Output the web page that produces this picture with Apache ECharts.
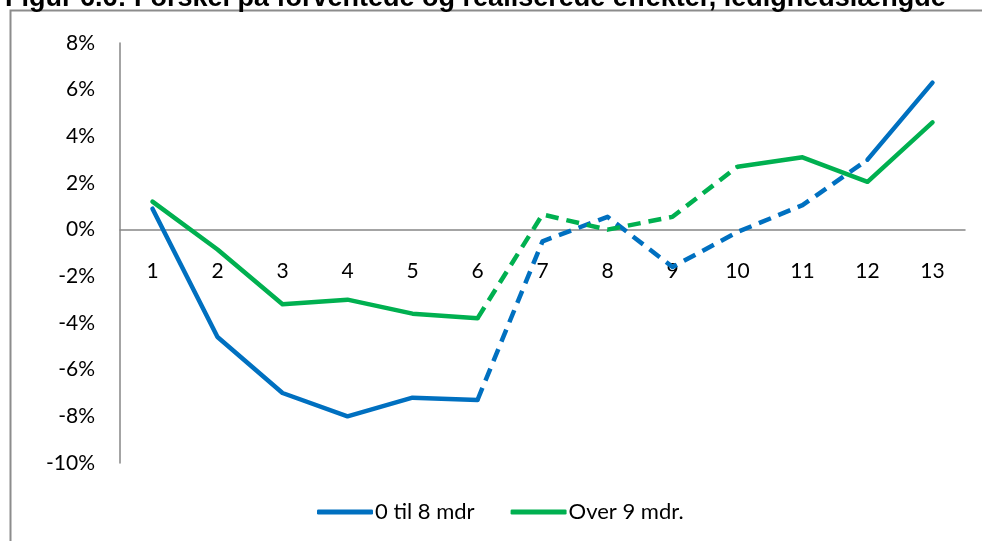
<!DOCTYPE html>
<html>
<head>
<meta charset="utf-8">
<script src="https://cdn.jsdelivr.net/npm/echarts@6/dist/echarts.min.js"></script>
<style>
  html, body { margin: 0; padding: 0; background: #fff; }
  #main { width: 982px; height: 541px; }
</style>
</head>
<body>
<div id="main"></div>
<script>
// kategorier (kvartaler) og værdier i procent
const categories = ["1", "2", "3", "4", "5", "6", "7", "8", "9", "10", "11", "12", "13"];
const kort = [0.9, -4.6, -7.0, -8.0, -7.2, -7.3, -0.5, 0.55, -1.6, -0.1, 1.05, 3.0, 6.3];
const lang = [1.2, -0.85, -3.2, -3.0, -3.6, -3.8, 0.65, 0.0, 0.55, 2.7, 3.1, 2.05, 4.6];
// stiplede intervaller (indeks fra/til)
const kortDash = [5, 11];
const langDash = [5, 9];
const yTicks = { min: -10, max: 8, step: 2 };

const split = (arr, range) => {
  // solid del og stiplet del
  let solid = arr.map((v, i) => (i <= range[0] || i >= range[1] ? v : null));
  let dash = arr.map((v, i) => (i >= range[0] && i <= range[1] ? v : null));
  return [solid, dash];
};

const [kortSolid, kortDashed] = split(kort, kortDash);
const [langSolid, langDashed] = split(lang, langDash);

const BLUE = "#0070C0";
const GREEN = "#00B050";
const FONT = "Lato";

const GRID_TOP = 43;
const GRID_BOTTOM = 78;
const PLOT_H = 541 - GRID_TOP - GRID_BOTTOM;
// flyt x-aksen op til 0-linjen
const zeroOffset = -PLOT_H * (0 - yTicks.min) / (yTicks.max - yTicks.min);

const line = (name, color, data, dashed) => ({
  name: name,
  type: "line",
  data: data,
  symbol: "none",
  connectNulls: false,
  silent: true,
  lineStyle: {
    color: color,
    width: 4.5,
    type: dashed ? [13, 8] : "solid",
    cap: dashed ? "butt" : "round",
    join: "round",
  },
  itemStyle: { color: color },
});

const chart = echarts.init(document.getElementById("main"));
const option = {
  animation: false,
  title: {
    text: "Figur 6.6: Forskel på forventede og realiserede effekter, ledighedslængde",
    left: 0,
    top: -20,
    textStyle: { fontFamily: "Liberation Sans", fontWeight: "bold", fontSize: 27, color: "#000" },
  },
  graphic: [
    {
      type: "rect",
      shape: { x: 10.5, y: 10.5, width: 1100, height: 700 },
      style: { fill: null, stroke: "#8c8c8c", lineWidth: 2 },
      silent: true,
    },
  ],
  grid: { left: 120, right: 17, top: GRID_TOP, bottom: GRID_BOTTOM },
  legend: {
    data: ["0 til 8 mdr", "Over 9 mdr."],
    left: 312,
    top: 496,
    icon: "roundRect",
    itemWidth: 56,
    itemHeight: 5,
    itemGap: 36,
    textStyle: { fontFamily: FONT, fontSize: 22, color: "#000", padding: [0, 0, 0, -3] },
  },
  xAxis: {
    type: "category",
    data: categories,
    boundaryGap: true,
    offset: zeroOffset,
    axisLine: { onZero: false, lineStyle: { color: "#868686", width: 1.5 } },
    axisTick: { show: false },
    axisLabel: { margin: 31, fontFamily: FONT, fontSize: 21, color: "#000" },
  },
  yAxis: {
    type: "value",
    min: yTicks.min,
    max: yTicks.max,
    interval: yTicks.step,
    axisLine: { show: true, lineStyle: { color: "#868686", width: 1.5 } },
    axisTick: { show: false },
    splitLine: { show: false },
    axisLabel: { margin: 25, formatter: "{value}%", fontFamily: FONT, fontSize: 21, color: "#000" },
  },
  series: [
    line("0 til 8 mdr", BLUE, kortSolid, false),
    line("Over 9 mdr.", GREEN, langSolid, false),
    line("0 til 8 mdr", BLUE, kortDashed, true),
    line("Over 9 mdr.", GREEN, langDashed, true),
  ],
};
option && chart.setOption(option);
</script>
</body>
</html>
